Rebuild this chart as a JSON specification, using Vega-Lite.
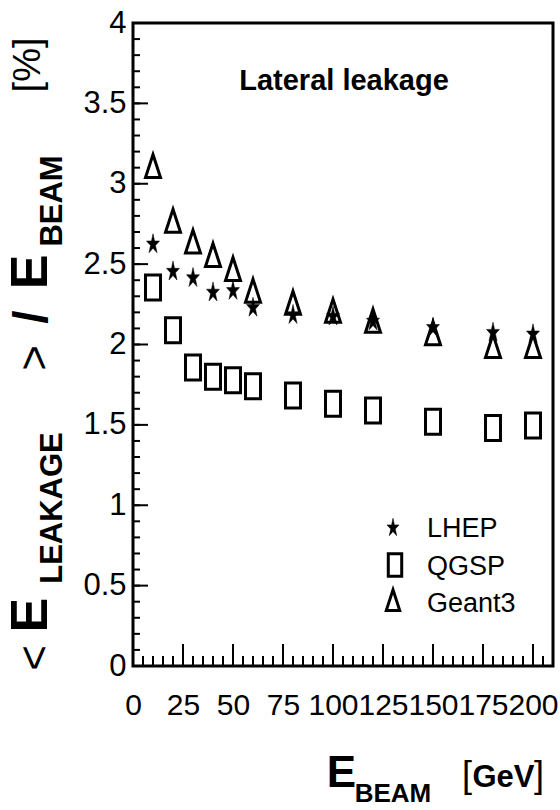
{
  "$schema": "https://vega.github.io/schema/vega-lite/v6.json",
  "width": 420,
  "height": 643,
  "autosize": {"type": "none"},
  "padding": {"left": 133, "top": 23, "right": 7, "bottom": 144},
  "background": "white",
  "config": {
    "view": {"stroke": "black", "strokeWidth": 3},
    "axis": {"grid": false, "labelColor": "black", "domainColor": "black", "labelFont": "Liberation Sans"},
    "text": {"font": "Liberation Sans", "color": "black"}
  },
  "datasets": {
    "leak": [
      {"E": 10, "model": "LHEP", "v": 2.63},
      {"E": 20, "model": "LHEP", "v": 2.46},
      {"E": 30, "model": "LHEP", "v": 2.42},
      {"E": 40, "model": "LHEP", "v": 2.33},
      {"E": 50, "model": "LHEP", "v": 2.34},
      {"E": 60, "model": "LHEP", "v": 2.235},
      {"E": 80, "model": "LHEP", "v": 2.19},
      {"E": 100, "model": "LHEP", "v": 2.18},
      {"E": 120, "model": "LHEP", "v": 2.15},
      {"E": 150, "model": "LHEP", "v": 2.11},
      {"E": 180, "model": "LHEP", "v": 2.08},
      {"E": 200, "model": "LHEP", "v": 2.07},
      {"E": 10, "model": "QGSP", "v": 2.355},
      {"E": 20, "model": "QGSP", "v": 2.088},
      {"E": 30, "model": "QGSP", "v": 1.857},
      {"E": 40, "model": "QGSP", "v": 1.80},
      {"E": 50, "model": "QGSP", "v": 1.777},
      {"E": 60, "model": "QGSP", "v": 1.74},
      {"E": 80, "model": "QGSP", "v": 1.683},
      {"E": 100, "model": "QGSP", "v": 1.632},
      {"E": 120, "model": "QGSP", "v": 1.59},
      {"E": 150, "model": "QGSP", "v": 1.52},
      {"E": 180, "model": "QGSP", "v": 1.48},
      {"E": 200, "model": "QGSP", "v": 1.496},
      {"E": 10, "model": "Geant3", "v": 3.11},
      {"E": 20, "model": "Geant3", "v": 2.77},
      {"E": 30, "model": "Geant3", "v": 2.64},
      {"E": 40, "model": "Geant3", "v": 2.557},
      {"E": 50, "model": "Geant3", "v": 2.47},
      {"E": 60, "model": "Geant3", "v": 2.335},
      {"E": 80, "model": "Geant3", "v": 2.26},
      {"E": 100, "model": "Geant3", "v": 2.21},
      {"E": 120, "model": "Geant3", "v": 2.148},
      {"E": 150, "model": "Geant3", "v": 2.07},
      {"E": 180, "model": "Geant3", "v": 1.99},
      {"E": 200, "model": "Geant3", "v": 1.99}
    ],
    "xminor": [{"t": 0}, {"t": 5}, {"t": 10}, {"t": 15}, {"t": 20}, {"t": 25}, {"t": 30}, {"t": 35}, {"t": 40}, {"t": 45}, {"t": 50}, {"t": 55}, {"t": 60}, {"t": 65}, {"t": 70}, {"t": 75}, {"t": 80}, {"t": 85}, {"t": 90}, {"t": 95}, {"t": 100}, {"t": 105}, {"t": 110}, {"t": 115}, {"t": 120}, {"t": 125}, {"t": 130}, {"t": 135}, {"t": 140}, {"t": 145}, {"t": 150}, {"t": 155}, {"t": 160}, {"t": 165}, {"t": 170}, {"t": 175}, {"t": 180}, {"t": 185}, {"t": 190}, {"t": 195}, {"t": 200}, {"t": 205}],
    "xmajor": [{"t": 0}, {"t": 25}, {"t": 50}, {"t": 75}, {"t": 100}, {"t": 125}, {"t": 150}, {"t": 175}, {"t": 200}],
    "yminor": [{"t": 0}, {"t": 0.1}, {"t": 0.2}, {"t": 0.3}, {"t": 0.4}, {"t": 0.5}, {"t": 0.6}, {"t": 0.7}, {"t": 0.8}, {"t": 0.9}, {"t": 1}, {"t": 1.1}, {"t": 1.2}, {"t": 1.3}, {"t": 1.4}, {"t": 1.5}, {"t": 1.6}, {"t": 1.7}, {"t": 1.8}, {"t": 1.9}, {"t": 2}, {"t": 2.1}, {"t": 2.2}, {"t": 2.3}, {"t": 2.4}, {"t": 2.5}, {"t": 2.6}, {"t": 2.7}, {"t": 2.8}, {"t": 2.9}, {"t": 3}, {"t": 3.1}, {"t": 3.2}, {"t": 3.3}, {"t": 3.4}, {"t": 3.5}, {"t": 3.6}, {"t": 3.7}, {"t": 3.8}, {"t": 3.9}, {"t": 4}],
    "ymajor": [{"t": 0}, {"t": 0.5}, {"t": 1}, {"t": 1.5}, {"t": 2}, {"t": 2.5}, {"t": 3}, {"t": 3.5}, {"t": 4}]
  },
  "resolve": {"scale": {"x": "independent", "y": "independent"}, "axis": {"x": "independent", "y": "independent"}},
  "layer": [
    {
      "data": {"name": "leak"},
      "mark": {"type": "point", "filled": false, "size": 625, "opacity": 1, "stroke": "black", "strokeWidth": 3},
      "encoding": {
        "x": {"field": "E", "type": "quantitative", "scale": {"domain": [0, 210], "nice": false, "zero": false},
          "axis": {"orient": "bottom", "title": null, "values": [0, 25, 50, 75, 100, 125, 150, 175, 200], "ticks": false, "domain": false, "labelFontSize": 30, "labelPadding": 24, "labelOverlap": false, "labelFlush": false}},
        "y": {"field": "v", "type": "quantitative", "scale": {"domain": [0, 4], "nice": false, "zero": false},
          "axis": {"orient": "left", "title": null, "values": [0, 0.5, 1, 1.5, 2, 2.5, 3, 3.5, 4], "format": ".1~f", "ticks": false, "domain": false, "labelFontSize": 31, "labelPadding": 7, "labelOverlap": false, "labelFlush": false}},
        "shape": {"field": "model", "type": "nominal",
          "scale": {"domain": ["LHEP", "QGSP", "Geant3"], "range": [
            "M0,-0.76L0.123,-0.18L0.52,-0.18L0.199,0.179L0.322,0.76L0,0.401L-0.322,0.76L-0.199,0.179L-0.52,-0.18L-0.123,-0.18Z",
            "M-0.6,-1L0.6,-1L0.6,1L-0.6,1Z",
            "M0,-0.92L0.6,0.92L-0.6,0.92Z"]},
          "legend": null},
        "fill": {"field": "model", "type": "nominal",
          "scale": {"domain": ["LHEP", "QGSP", "Geant3"], "range": ["black", "transparent", "transparent"]},
          "legend": null},
        "strokeWidth": {"condition": {"test": "datum.model === 'LHEP'", "value": 0.5}, "value": 3}
      }
    },
    {
      "data": {"name": "xminor"},
      "mark": {"type": "point", "shape": "M0,0L0,-1", "size": 400, "filled": false, "stroke": "black", "strokeWidth": 2, "opacity": 1},
      "encoding": {
        "x": {"field": "t", "type": "quantitative", "scale": {"domain": [0, 210], "nice": false, "zero": false}, "axis": null},
        "y": {"datum": 0, "type": "quantitative", "scale": {"domain": [0, 4], "nice": false, "zero": false}, "axis": null}
      }
    },
    {
      "data": {"name": "xmajor"},
      "mark": {"type": "point", "shape": "M0,0L0,-1", "size": 1936, "filled": false, "stroke": "black", "strokeWidth": 2, "opacity": 1},
      "encoding": {
        "x": {"field": "t", "type": "quantitative", "scale": {"domain": [0, 210], "nice": false, "zero": false}, "axis": null},
        "y": {"datum": 0, "type": "quantitative", "scale": {"domain": [0, 4], "nice": false, "zero": false}, "axis": null}
      }
    },
    {
      "data": {"name": "yminor"},
      "mark": {"type": "point", "shape": "M0,0L1,0", "size": 196, "filled": false, "stroke": "black", "strokeWidth": 2, "opacity": 1},
      "encoding": {
        "y": {"field": "t", "type": "quantitative", "scale": {"domain": [0, 4], "nice": false, "zero": false}, "axis": null},
        "x": {"datum": 0, "type": "quantitative", "scale": {"domain": [0, 210], "nice": false, "zero": false}, "axis": null}
      }
    },
    {
      "data": {"name": "ymajor"},
      "mark": {"type": "point", "shape": "M0,0L1,0", "size": 900, "filled": false, "stroke": "black", "strokeWidth": 2, "opacity": 1},
      "encoding": {
        "y": {"field": "t", "type": "quantitative", "scale": {"domain": [0, 4], "nice": false, "zero": false}, "axis": null},
        "x": {"datum": 0, "type": "quantitative", "scale": {"domain": [0, 210], "nice": false, "zero": false}, "axis": null}
      }
    },
    {
      "data": {"values": [{"model": "LHEP"}]},
      "mark": {"type": "point", "filled": false, "size": 530, "opacity": 1, "stroke": "black", "strokeWidth": 0.5},
      "encoding": {
        "x": {"datum": 130, "type": "quantitative", "scale": {"domain": [0, 210], "nice": false, "zero": false}, "axis": null},
        "y": {"datum": 0.865, "type": "quantitative", "scale": {"domain": [0, 4], "nice": false, "zero": false}, "axis": null},
        "shape": {"field": "model", "type": "nominal", "legend": null},
        "fill": {"field": "model", "type": "nominal", "legend": null}
      }
    },
    {
      "data": {"values": [{"model": "QGSP"}]},
      "mark": {"type": "point", "filled": false, "size": 500, "opacity": 1, "stroke": "black", "strokeWidth": 3},
      "encoding": {
        "x": {"datum": 131, "type": "quantitative", "scale": {"domain": [0, 210], "nice": false, "zero": false}, "axis": null},
        "y": {"datum": 0.628, "type": "quantitative", "scale": {"domain": [0, 4], "nice": false, "zero": false}, "axis": null},
        "shape": {"field": "model", "type": "nominal", "legend": null},
        "fill": {"field": "model", "type": "nominal", "legend": null}
      }
    },
    {
      "data": {"values": [{"model": "Geant3"}]},
      "mark": {"type": "point", "filled": false, "size": 500, "opacity": 1, "stroke": "black", "strokeWidth": 3},
      "encoding": {
        "x": {"datum": 130, "type": "quantitative", "scale": {"domain": [0, 210], "nice": false, "zero": false}, "axis": null},
        "y": {"datum": 0.41, "type": "quantitative", "scale": {"domain": [0, 4], "nice": false, "zero": false}, "axis": null},
        "shape": {"field": "model", "type": "nominal", "legend": null},
        "fill": {"field": "model", "type": "nominal", "legend": null}
      }
    },
    {
      "data": {"values": [{"t": "LHEP"}]},
      "mark": {"type": "text", "fontSize": 27, "align": "left", "baseline": "alphabetic"},
      "encoding": {
        "x": {"datum": 147, "type": "quantitative", "scale": {"domain": [0, 210], "nice": false, "zero": false}, "axis": null},
        "y": {"datum": 0.8025, "type": "quantitative", "scale": {"domain": [0, 4], "nice": false, "zero": false}, "axis": null},
        "text": {"field": "t"}
      }
    },
    {
      "data": {"values": [{"t": "QGSP"}]},
      "mark": {"type": "text", "fontSize": 27, "align": "left", "baseline": "alphabetic"},
      "encoding": {
        "x": {"datum": 147, "type": "quantitative", "scale": {"domain": [0, 210], "nice": false, "zero": false}, "axis": null},
        "y": {"datum": 0.566, "type": "quantitative", "scale": {"domain": [0, 4], "nice": false, "zero": false}, "axis": null},
        "text": {"field": "t"}
      }
    },
    {
      "data": {"values": [{"t": "Geant3"}]},
      "mark": {"type": "text", "fontSize": 27, "align": "left", "baseline": "alphabetic"},
      "encoding": {
        "x": {"datum": 147, "type": "quantitative", "scale": {"domain": [0, 210], "nice": false, "zero": false}, "axis": null},
        "y": {"datum": 0.336, "type": "quantitative", "scale": {"domain": [0, 4], "nice": false, "zero": false}, "axis": null},
        "text": {"field": "t"}
      }
    },
    {
      "data": {"values": [{"t": "Lateral leakage"}]},
      "mark": {"type": "text", "fontSize": 29, "fontWeight": "bold", "align": "center", "baseline": "alphabetic"},
      "encoding": {
        "x": {"datum": 105.5, "type": "quantitative", "scale": {"domain": [0, 210], "nice": false, "zero": false}, "axis": null},
        "y": {"datum": 3.583, "type": "quantitative", "scale": {"domain": [0, 4], "nice": false, "zero": false}, "axis": null},
        "text": {"field": "t"}
      }
    },
    {
      "data": {"values": [{"t": "E"}]},
      "mark": {"type": "text", "fontSize": 44, "fontWeight": "bold", "align": "center", "baseline": "alphabetic"},
      "encoding": {
        "x": {"datum": 104.25, "type": "quantitative", "scale": {"domain": [0, 210], "nice": false, "zero": false}, "axis": null},
        "y": {"datum": -0.753, "type": "quantitative", "scale": {"domain": [0, 4], "nice": false, "zero": false}, "axis": null},
        "text": {"field": "t"}
      }
    },
    {
      "data": {"values": [{"t": "BEAM"}]},
      "mark": {"type": "text", "fontSize": 26, "fontWeight": "bold", "align": "center", "baseline": "alphabetic"},
      "encoding": {
        "x": {"datum": 130, "type": "quantitative", "scale": {"domain": [0, 210], "nice": false, "zero": false}, "axis": null},
        "y": {"datum": -0.846, "type": "quantitative", "scale": {"domain": [0, 4], "nice": false, "zero": false}, "axis": null},
        "text": {"field": "t"}
      }
    },
    {
      "data": {"values": [{"t": "["}]},
      "mark": {"type": "text", "fontSize": 36, "align": "center", "baseline": "alphabetic"},
      "encoding": {
        "x": {"datum": 167, "type": "quantitative", "scale": {"domain": [0, 210], "nice": false, "zero": false}, "axis": null},
        "y": {"datum": -0.753, "type": "quantitative", "scale": {"domain": [0, 4], "nice": false, "zero": false}, "axis": null},
        "text": {"field": "t"}
      }
    },
    {
      "data": {"values": [{"t": "GeV"}]},
      "mark": {"type": "text", "fontSize": 31, "fontWeight": "bold", "align": "center", "baseline": "alphabetic"},
      "encoding": {
        "x": {"datum": 185.25, "type": "quantitative", "scale": {"domain": [0, 210], "nice": false, "zero": false}, "axis": null},
        "y": {"datum": -0.753, "type": "quantitative", "scale": {"domain": [0, 4], "nice": false, "zero": false}, "axis": null},
        "text": {"field": "t"}
      }
    },
    {
      "data": {"values": [{"t": "]"}]},
      "mark": {"type": "text", "fontSize": 36, "align": "center", "baseline": "alphabetic"},
      "encoding": {
        "x": {"datum": 203, "type": "quantitative", "scale": {"domain": [0, 210], "nice": false, "zero": false}, "axis": null},
        "y": {"datum": -0.753, "type": "quantitative", "scale": {"domain": [0, 4], "nice": false, "zero": false}, "axis": null},
        "text": {"field": "t"}
      }
    },
    {
      "data": {"values": [{"t": "<"}]},
      "mark": {"type": "text", "fontSize": 44, "angle": 270, "align": "center", "baseline": "alphabetic"},
      "encoding": {
        "x": {"datum": -42, "type": "quantitative", "scale": {"domain": [0, 210], "nice": false, "zero": false}, "axis": null},
        "y": {"datum": 0.05, "type": "quantitative", "scale": {"domain": [0, 4], "nice": false, "zero": false}, "axis": null},
        "text": {"field": "t"}
      }
    },
    {
      "data": {"values": [{"t": "E"}]},
      "mark": {"type": "text", "fontSize": 52, "fontWeight": "bold", "angle": 270, "align": "center", "baseline": "alphabetic"},
      "encoding": {
        "x": {"datum": -43, "type": "quantitative", "scale": {"domain": [0, 210], "nice": false, "zero": false}, "axis": null},
        "y": {"datum": 0.317, "type": "quantitative", "scale": {"domain": [0, 4], "nice": false, "zero": false}, "axis": null},
        "text": {"field": "t"}
      }
    },
    {
      "data": {"values": [{"t": "LEAKAGE"}]},
      "mark": {"type": "text", "fontSize": 31, "fontWeight": "bold", "angle": 270, "align": "center", "baseline": "alphabetic"},
      "encoding": {
        "x": {"datum": -35.5, "type": "quantitative", "scale": {"domain": [0, 210], "nice": false, "zero": false}, "axis": null},
        "y": {"datum": 0.983, "type": "quantitative", "scale": {"domain": [0, 4], "nice": false, "zero": false}, "axis": null},
        "text": {"field": "t"}
      }
    },
    {
      "data": {"values": [{"t": ">"}]},
      "mark": {"type": "text", "fontSize": 44, "angle": 270, "align": "center", "baseline": "alphabetic"},
      "encoding": {
        "x": {"datum": -42, "type": "quantitative", "scale": {"domain": [0, 210], "nice": false, "zero": false}, "axis": null},
        "y": {"datum": 1.916, "type": "quantitative", "scale": {"domain": [0, 4], "nice": false, "zero": false}, "axis": null},
        "text": {"field": "t"}
      }
    },
    {
      "data": {"values": [{"t": "/"}]},
      "mark": {"type": "text", "fontSize": 48, "fontWeight": "bold", "angle": 270, "align": "center", "baseline": "alphabetic"},
      "encoding": {
        "x": {"datum": -43, "type": "quantitative", "scale": {"domain": [0, 210], "nice": false, "zero": false}, "axis": null},
        "y": {"datum": 2.171, "type": "quantitative", "scale": {"domain": [0, 4], "nice": false, "zero": false}, "axis": null},
        "text": {"field": "t"}
      }
    },
    {
      "data": {"values": [{"t": "E"}]},
      "mark": {"type": "text", "fontSize": 52, "fontWeight": "bold", "angle": 270, "align": "center", "baseline": "alphabetic"},
      "encoding": {
        "x": {"datum": -43, "type": "quantitative", "scale": {"domain": [0, 210], "nice": false, "zero": false}, "axis": null},
        "y": {"datum": 2.451, "type": "quantitative", "scale": {"domain": [0, 4], "nice": false, "zero": false}, "axis": null},
        "text": {"field": "t"}
      }
    },
    {
      "data": {"values": [{"t": "BEAM"}]},
      "mark": {"type": "text", "fontSize": 31, "fontWeight": "bold", "angle": 270, "align": "center", "baseline": "alphabetic"},
      "encoding": {
        "x": {"datum": -35.5, "type": "quantitative", "scale": {"domain": [0, 210], "nice": false, "zero": false}, "axis": null},
        "y": {"datum": 2.893, "type": "quantitative", "scale": {"domain": [0, 4], "nice": false, "zero": false}, "axis": null},
        "text": {"field": "t"}
      }
    },
    {
      "data": {"values": [{"t": "[%]"}]},
      "mark": {"type": "text", "fontSize": 38, "angle": 270, "align": "center", "baseline": "alphabetic"},
      "encoding": {
        "x": {"datum": -46.5, "type": "quantitative", "scale": {"domain": [0, 210], "nice": false, "zero": false}, "axis": null},
        "y": {"datum": 3.739, "type": "quantitative", "scale": {"domain": [0, 4], "nice": false, "zero": false}, "axis": null},
        "text": {"field": "t"}
      }
    }
  ]
}
